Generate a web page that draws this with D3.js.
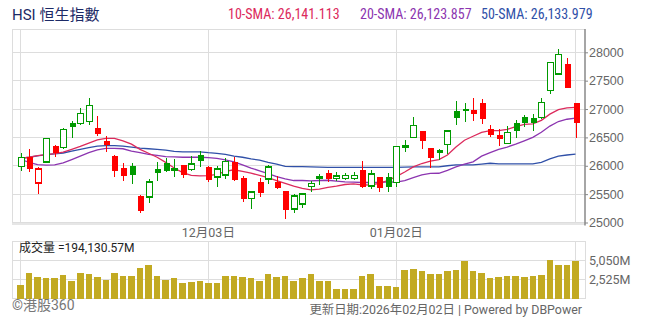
<!DOCTYPE html>
<html>
<head>
<meta charset="utf-8">
<script src="https://cdn.jsdelivr.net/npm/d3@7"></script>
<style>
  body { margin: 0; background: #fff; }
  svg { display: block; font-family: Roboto, "Noto Sans CJK TC", sans-serif; }
</style>
</head>
<body>
<svg class="svg-main" width="654" height="325"></svg>
<script>
// trading days, Nov 3 2025 .. Feb 2 2026
const dates = [
  "2025-11-03","2025-11-04","2025-11-05","2025-11-06","2025-11-07",
  "2025-11-10","2025-11-11","2025-11-12","2025-11-13","2025-11-14",
  "2025-11-17","2025-11-18","2025-11-19","2025-11-20","2025-11-21",
  "2025-11-24","2025-11-25","2025-11-26","2025-11-27","2025-11-28",
  "2025-12-01","2025-12-02","2025-12-03","2025-12-04","2025-12-05",
  "2025-12-08","2025-12-09","2025-12-10","2025-12-11","2025-12-12",
  "2025-12-15","2025-12-16","2025-12-17","2025-12-18","2025-12-19",
  "2025-12-22","2025-12-23","2025-12-24","2025-12-25","2025-12-26",
  "2025-12-29","2025-12-30","2025-12-31","2026-01-01","2026-01-02",
  "2026-01-05","2026-01-06","2026-01-07","2026-01-08","2026-01-09",
  "2026-01-12","2026-01-13","2026-01-14","2026-01-15","2026-01-16",
  "2026-01-19","2026-01-20","2026-01-21","2026-01-22","2026-01-23",
  "2026-01-26","2026-01-27","2026-01-28","2026-01-29","2026-01-30",
  "2026-02-02"
];

const open = [25986,26150,25692,26062,26344,26326,26748,26748,26783,26660,
  26432,26168,25962,25997,25469,25446,25939,26044,25930,26009,
  25933,26191,25980,25798,25833,26068,25792,25422,25716,25763,
  25716,25557,25235,25323,25634,25792,25874,25774,25776,25778,
  25927,25640,25804,25810,25704,26345,26496,26613,26314,26279,
  26379,26965,26995,26983,27100,26643,26543,26396,26748,26854,
  26842,26854,27323,27617,27793,27106];
const high = [26220,26297,25975,26495,26373,26660,26795,27012,27188,26877,
  26531,26191,26050,26050,25487,25768,26062,26132,26120,26009,
  26179,26262,25997,25997,26138,26156,25821,25534,25792,26009,
  25821,25557,25504,25516,25733,25857,25921,25886,25880,25885,
  26085,25927,25804,25868,26350,26455,26854,26613,26314,26303,
  26613,27141,27100,27200,27171,26719,26643,26702,26801,26895,
  26913,27188,27822,28051,27892,27106];
const low = [25915,25892,25499,26050,26162,26297,26496,26719,26719,26525,
  26250,25810,25739,25686,25176,25352,25739,25898,25810,25792,
  25903,25985,25716,25634,25763,25728,25358,25246,25458,25681,
  25587,25065,25164,25252,25546,25669,25722,25739,25745,25750,
  25610,25593,25540,25546,25634,26250,26496,26303,25956,26103,
  26208,26725,26778,26789,26737,26514,26355,26396,26496,26684,
  26619,26830,27259,27599,27370,26496];
const close = [26150,25950,25939,26484,26232,26643,26690,26924,27065,26566,
  26361,25915,25827,25840,25211,25710,25880,25915,25950,25845,
  26027,26091,25751,25939,26079,25751,25416,25534,25528,25974,
  25616,25223,25469,25504,25686,25815,25774,25821,25825,25830,
  25634,25851,25616,25625,26344,26360,26713,26443,26144,26232,
  26613,26848,26970,26918,26830,26549,26478,26590,26619,26748,
  26760,27118,27822,27963,27370,26760];

// volume, millions
const volume = [1728,3455,2791,2658,2658,3057,2392,3455,3322,2791,
  2525,3455,2924,2924,3987,4386,2924,2525,2658,1994,
  2259,2392,2126,2126,2924,2924,2791,2658,2392,3190,
  2791,2924,2392,2658,3322,2392,2304,1240,1240,1240,
  2968,3234,1639,1639,1506,3766,3898,3633,3234,3234,
  3633,3766,4962,3633,3367,2702,2835,2968,2968,2835,
  2968,3101,5095,4430,4430,4962];

const sma10 = [26130,26150,26180,26195,26215,26240,26290,26340,26400,26455,
  26484,26484,26440,26380,26290,26220,26150,26060,25960,25880,
  25830,25822,25825,25850,25900,25930,25900,25870,25830,25790,
  25740,25690,25640,25600,25575,25590,25620,25640,25670,25680,
  25665,25660,25690,25740,25810,25890,25980,26040,26080,26110,
  26190,26330,26450,26520,26590,26620,26620,26640,26690,26730,
  26740,26800,26910,26990,27020,27030];
const sma20 = [26115,26060,26020,26010,26015,26050,26110,26170,26230,26280,
  26308,26308,26300,26260,26230,26200,26185,26162,26155,26150,
  26150,26150,26145,26130,26105,26070,26015,25960,25910,25860,
  25810,25770,25740,25740,25735,25740,25745,25730,25715,25710,
  25705,25705,25705,25715,25710,25740,25790,25840,25865,25868,
  25920,25980,26030,26070,26170,26230,26290,26330,26380,26440,
  26500,26590,26700,26780,26820,26840];
const sma50 = [26132,26150,26175,26195,26210,26225,26260,26290,26320,26345,
  26355,26355,26345,26330,26310,26300,26290,26275,26255,26245,
  26245,26245,26230,26220,26200,26170,26150,26120,26100,26060,
  26030,25990,25985,25985,25980,25975,25970,25970,25970,25970,
  25970,25970,25970,25970,25970,25975,25980,25980,25980,25980,
  26000,26015,26015,26015,26030,26044,26035,26035,26035,26035,
  26035,26060,26120,26170,26190,26205];

const priceTicks = [25000, 25500, 26000, 26500, 27000, 27500, 28000];
const volTicks = [2525, 5050];
const volTickLabels = ["2,525M", "5,050M"];
const dateTicks = ["2025-12-03", "2026-01-02"];
const dateTickLabels = ["12月03日", "01月02日"];
const gridDates = ["2025-11-03", "2025-12-03", "2026-01-02", "2026-02-02"];

const legend = [
  { label: "10-SMA: 26,141.113", color: "#dc2a5c", x: 228, data: sma10 },
  { label: "20-SMA: 26,123.857", color: "#8c35b0", x: 360, data: sma20 },
  { label: "50-SMA: 26,133.979", color: "#3050a8", x: 481, data: sma50 }
];

const svg = d3.select(".svg-main");

const left = 12, right = 585;
const priceTop = 29, priceBottom = 222.5;
const volTop = 241, volBottom = 298.5;

const green = "#009a00", red = "#f00", gridColor = "#dddddd";

const x = d3.scalePoint()
  .domain(dates)
  .range([20.5, 575.5]);

const y = d3.scaleLinear()
  .domain([25000, 28000])
  .range([priceBottom, 52.3]);

const yVol = d3.scaleLinear()
  .domain([0, 2525])
  .range([volBottom, volBottom - 19]);

const candles = dates.map((d, i) => ({
  date: d, o: open[i], h: high[i], l: low[i], c: close[i], v: volume[i],
  up: i === 0 ? close[i] >= open[i] : close[i] >= close[i - 1]
}));

// ---- grid
const grid = svg.append("g").attr("shape-rendering", "crispEdges");

grid.selectAll("line.h")
  .data(priceTicks.slice(1))
  .enter().append("line")
    .attr("x1", left).attr("x2", right)
    .attr("y1", d => y(d)).attr("y2", d => y(d))
    .attr("stroke", gridColor);

grid.selectAll("line.v")
  .data(gridDates)
  .enter().append("line")
    .attr("x1", d => x(d)).attr("x2", d => x(d))
    .attr("y1", priceTop).attr("y2", priceBottom)
    .attr("stroke", gridColor);

grid.selectAll("line.vv")
  .data(gridDates)
  .enter().append("line")
    .attr("x1", d => x(d)).attr("x2", d => x(d))
    .attr("y1", volTop).attr("y2", volBottom)
    .attr("stroke", gridColor);

grid.selectAll("line.hv")
  .data(volTicks)
  .enter().append("line")
    .attr("x1", left).attr("x2", right)
    .attr("y1", d => yVol(d)).attr("y2", d => yVol(d))
    .attr("stroke", gridColor);

// frames
grid.append("path")
  .attr("d", `M${right},${priceTop}H${left}V${priceBottom}H${right}`)
  .attr("fill", "none").attr("stroke", gridColor);
grid.append("line")
  .attr("x1", left).attr("x2", right)
  .attr("y1", priceBottom + 1).attr("y2", priceBottom + 1)
  .attr("stroke", "#e6e6e6").attr("stroke-width", 2);
grid.append("rect")
  .attr("x", left).attr("y", volTop)
  .attr("width", right - left).attr("height", volBottom - volTop)
  .attr("fill", "none").attr("stroke", gridColor);

// ---- right price axis
const yAxis = svg.append("g")
  .attr("transform", `translate(${right},0)`)
  .call(d3.axisRight(y).tickValues(priceTicks).tickSize(3).tickFormat(d3.format("d")));
yAxis.select(".domain").attr("d", `M0,${priceTop}V${priceBottom + 3}`)
  .attr("stroke", "#888").attr("stroke-width", 1.5);
yAxis.selectAll(".tick line").attr("stroke", "#888");
yAxis.selectAll(".tick text")
  .attr("x", 4)
  .attr("fill", "#666")
  .style("font-size", "12.5px");

// volume labels
svg.append("g").selectAll("text")
  .data(volTicks)
  .enter().append("text")
    .attr("x", right + 4)
    .attr("y", d => yVol(d))
    .attr("dy", "0.35em")
    .attr("fill", "#666")
    .style("font-size", "12.5px")
    .text((d, i) => volTickLabels[i]);

// date labels
svg.append("g").selectAll("text")
  .data(dateTicks)
  .enter().append("text")
    .attr("x", d => x(d))
    .attr("y", 232.5)
    .attr("dy", "0.35em")
    .attr("text-anchor", "middle")
    .attr("fill", "#666")
    .style("font-size", "12.5px")
    .text((d, i) => dateTickLabels[i]);

// ---- volume bars
svg.append("g")
  .attr("shape-rendering", "crispEdges")
  .selectAll("rect")
  .data(candles)
  .enter().append("rect")
    .attr("x", d => x(d.date) - 3.3)
    .attr("width", 6.6)
    .attr("y", d => yVol(d.v))
    .attr("height", d => volBottom - yVol(d.v))
    .attr("fill", "#c2aa22");

// ---- moving averages
const line = d3.line()
  .x((d, i) => x(dates[i]))
  .y(d => y(d));

svg.append("g").selectAll("path")
  .data(legend.slice().reverse())
  .enter().append("path")
    .attr("d", d => line(d.data))
    .attr("fill", "none")
    .attr("stroke", d => d.color)
    .attr("stroke-width", 1.3);

// ---- candles
const candle = svg.append("g")
  .attr("shape-rendering", "crispEdges")
  .selectAll("g")
  .data(candles)
  .enter().append("g");

candle.append("line")
  .attr("x1", d => Math.round(x(d.date)) + 0.5)
  .attr("x2", d => Math.round(x(d.date)) + 0.5)
  .attr("y1", d => y(d.h))
  .attr("y2", d => y(d.l))
  .attr("stroke", d => d.up ? green : red)
  .attr("stroke-width", 1.5);

candle.append("rect")
  .attr("x", d => Math.round(x(d.date)) - 2.5)
  .attr("width", 6)
  .attr("y", d => y(Math.max(d.o, d.c)))
  .attr("height", d => Math.max(1.5, Math.abs(y(d.o) - y(d.c))))
  .attr("fill", d => d.c > d.o ? "#fff" : (d.up ? green : red))
  .attr("stroke", d => d.up ? green : red)
  .attr("stroke-width", d => d.c > d.o ? 1.5 : 0);

// ---- titles
svg.append("text")
  .attr("x", 12).attr("y", 14.5)
  .attr("dy", "0.35em")
  .attr("fill", "#1c2a66")
  .style("font-size", "15px")
  .text("HSI 恒生指數");

svg.append("g").selectAll("text")
  .data(legend)
  .enter().append("text")
    .attr("x", d => d.x)
    .attr("y", 14.5)
    .attr("dy", "0.35em")
    .attr("fill", d => d.color)
    .style("font-family", "'Liberation Sans Narrow', 'Roboto Condensed', Roboto, sans-serif")
    .style("font-size", "14px")
    .text(d => d.label);

svg.append("text")
  .attr("x", 19).attr("y", 247.5)
  .attr("dy", "0.35em")
  .attr("fill", "#222")
  .style("font-size", "12px")
  .text("成交量 =194,130.57M");

svg.append("text")
  .attr("x", 12).attr("y", 305.5)
  .attr("dy", "0.35em")
  .attr("fill", "#777")
  .style("font-size", "14px")
  .text("©港股360");

svg.append("text")
  .attr("x", 582).attr("y", 310)
  .attr("dy", "0.35em")
  .attr("text-anchor", "end")
  .attr("fill", "#666")
  .style("font-size", "12.4px")
  .text("更新日期:2026年02月02日 | Powered by DBPower");
</script>
</body>
</html>
